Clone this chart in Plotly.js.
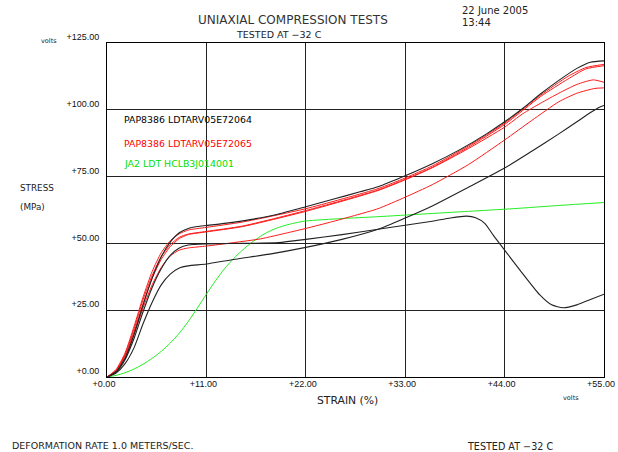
<!DOCTYPE html>
<html>
<head>
<meta charset="utf-8">
<script src="https://cdn.plot.ly/plotly-3.0.1.min.js"></script>
<style>html,body{margin:0;padding:0;background:#fff;}#chart{width:618px;height:452px;}</style>
</head>
<body>
<div id="chart"></div>
<script>
// ---- data (strain %, stress MPa) ----
// Series PAP8386 LDTARV05E72064 (black) : three specimens
const blkA_x = [0,1,2,3,4,5,6,7,8,9,10,11,13,16,19,22,25,28,30,33,36,39,42,44,46,48,50,52,53.5,55];
const blkA_y = [0,2,7,16,27,37,45,50.5,54,55.6,56.3,56.7,57.5,59,61,63.7,66.5,69.3,71.2,75.3,79.8,85,91,95.5,100.5,106,111,115.5,117.8,118.3];
const blkB_x = [0,1,2,3,4,5,6,7,8,9,11,15,19,22,26,30,33,36,38,39.8,40.8,41.8,42.8,44,45.7,47.9,49.2,50.5,52,53.5,55];
const blkB_y = [0,1.8,6.5,14.5,24.5,33.5,40.5,45.5,48.3,49.4,49.8,50,50.3,51.5,53.3,55.3,56.8,58.3,59.5,60.2,59.6,57.5,52.8,47.5,40,30.7,27,25.9,27,29,31];
const blkC_x = [0,1,2,3,4,5,6,7,8,9,11,14,18,22,26,30,33,36,40,44,47,50,52,53.5,54.5,55];
const blkC_y = [0,1.5,5,11,20,28,34.5,38.5,40.8,41.6,42.3,44,46,48.5,51.5,55.3,59.5,64,71,78.2,84.5,91,95.5,99,101,101.6];
// Series PAP8386 LDTARV05E72065 (red) : four specimens
const redA_x = [0,1,2,3,4,5,6,7,8,9,11,15,22,30,33,36,40,44,48,51,53,55];
const redA_y = [0,2.8,9,19,30,39.5,46.5,51,53.6,55,56,58,63,70.5,74.5,79,86.5,95,105.5,112.5,115.8,117];
const redB_x = [0,1,2,3,4,5,6,7,8,9,11,15,22,30,33,36,40,44,48,51,53,55];
const redB_y = [0,2.5,8.5,18,29,38,45,49.5,52.3,53.5,54.5,56.5,62.3,70,74,78.5,86,94.5,105,111.5,115.3,116.5];
const redC_x = [0,1,2,3,4,5,6,7,8,9,11,15,22,30,33,36,40,44,46,48,50,52,53.8,55];
const redC_y = [0,2.2,8,17,27.5,37,44,48.8,51.8,53.3,54.3,56.3,62,69.8,73.8,78.3,85.5,93.5,98.5,102.5,106.2,109.5,111.2,110.3];
const redD_x = [0,1,2,3,4,5,6,7,8,9,11,14,17,20,22,25,28,30,33,36,40,44,47,50,52,54,55];
const redD_y = [0,2.2,7.5,16,26,34.5,41,45.3,47.5,48.3,49,50.3,51.7,54,55.6,58.2,61,63,67.3,72,79.5,88.7,96,103,106.2,108,108.2];
// Series JA2 LDT HCLB3J014001 (green)
const grn_x = [0,1,2,3,4,5,6,7,8,9,10,11,12,13,14,15,16,17,18,19,20,21,22,26,30,35,40,45,50,55];
const grn_y = [0,0.6,1.6,3,4.8,7,9.6,12.7,16.4,20.8,25.8,31,36,40.5,44.3,47.5,50.3,52.7,54.6,56,57,57.8,58.4,59.3,60,61,62,63,64.2,65.3];

const seriesNames = ["PAP8386 LDTARV05E72064", "PAP8386 LDTARV05E72065", "JA2 LDT HCLB3J014001"];
const seriesColors = ["#000000", "#ff0000", "#00e000"];

const xTickVals = [0, 11, 22, 33, 44, 55];
const xTickText = ["+0.00", "+11.00", "+22.00", "+33.00", "+44.00", "+55.00"];
const yTickVals = [0, 25, 50, 75, 100, 125];
const yTickText = ["+0.00", "+25.00", "+50.00", "+75.00", "+100.00", "+125.00"];

// ---- traces ----
function line(x, y, color, w) {
  return {x: x, y: y, type: 'scatter', mode: 'lines', line: {color: color, width: w, shape: 'spline', smoothing: 0.6}, hoverinfo: 'skip', showlegend: false};
}
const blk = "#222222", red = "#ff1a1a", grn = "#22ee22";
const traces = [
  line(grn_x, grn_y, grn, 1),
  line(redD_x, redD_y, red, 1),
  line(blkC_x, blkC_y, blk, 1.1),
  line(blkB_x, blkB_y, blk, 1.1),
  line(redC_x, redC_y, red, 1),
  line(redB_x, redB_y, red, 1),
  line(redA_x, redA_y, red, 1),
  line(blkA_x, blkA_y, blk, 1.1)
];

// ---- layout helpers (pixel -> paper) ----
const L = 107, R = 604, T = 43, B = 377;
function ann(text, px, py, size, color) {
  return {text: text, xref: 'paper', yref: 'paper', x: (px - L) / (R - L), y: (B - py) / (B - T),
    xanchor: 'left', yanchor: 'middle', showarrow: false, borderpad: 0,
    font: {family: 'DejaVu Sans', size: size, color: color || '#111'}};
}
const annotations = [
  ann("UNIAXIAL COMPRESSION TESTS", 197, 20, 12, '#333'),
  ann("TESTED AT \u221232 C", 235, 34, 9.5, '#222'),
  ann("22 June 2005", 461, 11, 10, '#222'),
  ann("13:44", 461, 22, 10, '#222'),
  ann("volts", 40, 41, 6.5, '#222'),
  ann("STRESS", 19, 188, 8.8, '#222'),
  ann("(MPa)", 19, 207, 8.8, '#222'),
  ann("STRAIN (%)", 316, 401, 10.8, '#222'),
  ann("volts", 562, 398, 6.5, '#222'),
  ann("DEFORMATION RATE 1.0 METERS/SEC.", 11, 445, 9.5, '#222'),
  ann("TESTED AT \u221232 C", 466, 446, 9.6, '#222'),
  ann(seriesNames[0], 123, 119, 9.4, seriesColors[0]),
  ann(seriesNames[1], 123, 143, 9.4, seriesColors[1]),
  ann(seriesNames[2], 123, 163, 9.4, seriesColors[2])
];

const layout = {
  width: 618, height: 452,
  margin: {l: L, r: 618 - R, t: T, b: 452 - B, pad: 0},
  paper_bgcolor: '#ffffff', plot_bgcolor: '#ffffff',
  showlegend: false,
  xaxis: {range: [0, 55], tickvals: xTickVals, ticktext: xTickText, showgrid: true,
    gridcolor: '#222', gridwidth: 1, zeroline: false, showline: true, linecolor: '#000', linewidth: 1,
    mirror: true, ticks: '', ticklabelstandoff: -2, ticklabelshift: -3,
    tickfont: {family: 'Liberation Sans', size: 9, color: '#111'}, fixedrange: true},
  yaxis: {range: [0, 125], tickvals: yTickVals, ticktext: yTickText, showgrid: true,
    gridcolor: '#222', gridwidth: 1, zeroline: false, showline: true, linecolor: '#000', linewidth: 1,
    mirror: true, ticks: '', ticklabelstandoff: 5, ticklabelshift: -6,
    tickfont: {family: 'Liberation Sans', size: 9, color: '#111'}, fixedrange: true},
  annotations: annotations
};

Plotly.newPlot('chart', traces, layout, {staticPlot: true, displayModeBar: false});
</script>
</body>
</html>
